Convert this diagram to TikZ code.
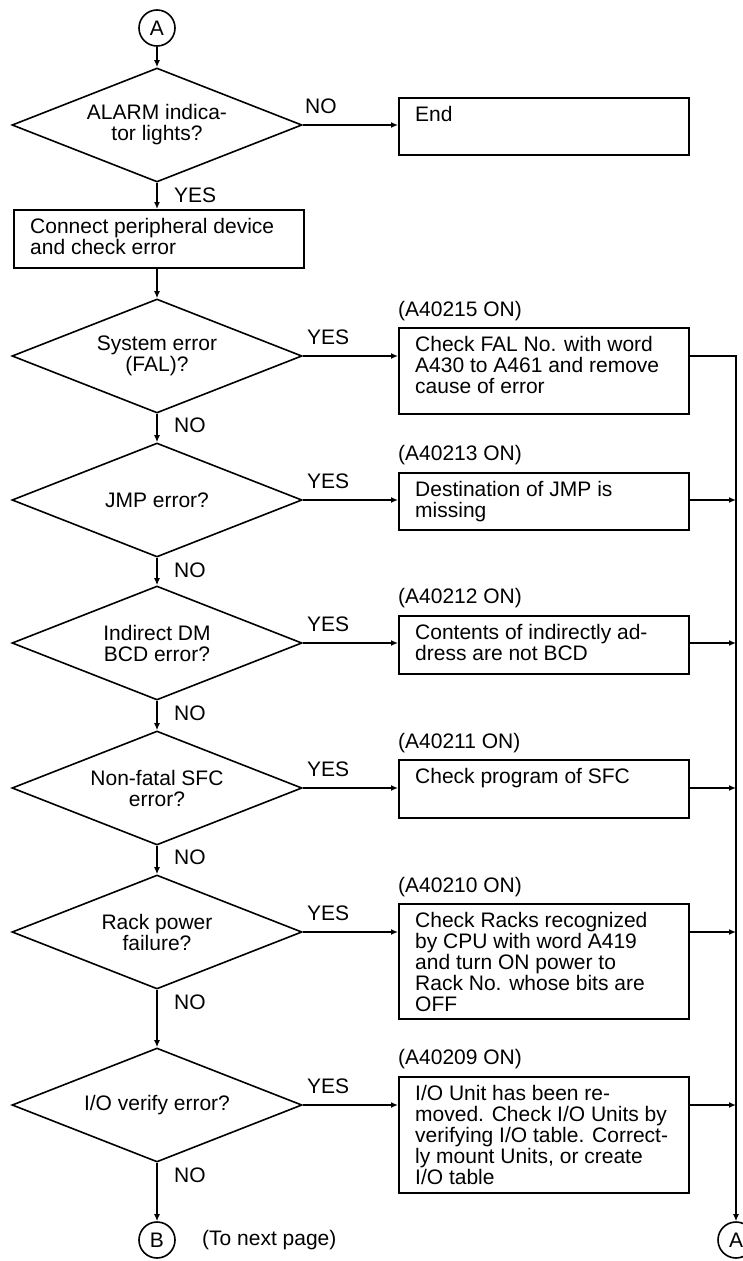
\documentclass[tikz,border=0pt]{standalone}
\usepackage{fontspec}
\setmainfont{Liberation Sans}
\usetikzlibrary{shapes.geometric,arrows.meta}
\begin{document}
\begin{tikzpicture}[x=1pt,y=-1pt,
  every node/.style={font=\fontsize{21}{21}\selectfont},
  line/.style={line width=1.6pt},
  arr/.style={line width=1.6pt, -{Latex[length=7pt,width=6pt]}},
  dec/.style={diamond, draw, line width=1.6pt, minimum width=290pt, minimum height=114pt, inner sep=0pt, align=center, aspect=2.54},
  box/.style={draw, line width=1.6pt, minimum width=290pt, inner sep=0pt, anchor=north west},
  txt/.style={anchor=north west, inner sep=0pt, align=left},
  lab/.style={inner sep=0pt, anchor=west},
  conn/.style={circle, draw, line width=1.6pt, minimum size=36pt, inner sep=0pt}]
\useasboundingbox (0,0) rectangle (743,1261);

% connectors
\node[conn] (cA) at (157,28) {A};
\node[conn] (cB) at (157,1240) {B};
\node[conn] (cA2) at (736,1240) {A};
\node[lab] (next) at (202,1240) {(To next page)};

% decisions
\node[dec] (d1) at (157,125) {ALARM indica-\\tor lights?};
\node[dec] (d2) at (157,356) {System error\\(FAL)?};
\node[dec] (d3) at (157,500) {JMP error?};
\node[dec] (d4) at (157,643) {Indirect DM\\BCD error?};
\node[dec] (d5) at (157,788) {Non-fatal SFC\\error?};
\node[dec] (d6) at (157,932) {Rack power\\failure?};
\node[dec] (d7) at (157,1105) {I/O verify error?};

% boxes
\node[box, minimum height=57pt] (bEnd) at (398,97) {};
\node[txt] (tEnd) at (415,106) {End};
\node[box, minimum height=58pt] (b0) at (13,209) {};
\node[txt] (t0) at (30,218) {Connect peripheral device\\and check error};
\node[box, minimum height=86pt] (b2) at (398,327) {};
\node[txt] (t2) at (415,336) {Check FAL No. with word\\A430 to A461 and remove\\cause of error};
\node[box, minimum height=57pt] (b3) at (398,472) {};
\node[txt] (t3) at (415,481) {Destination of JMP is\\missing};
\node[box, minimum height=58pt] (b4) at (398,615) {};
\node[txt] (t4) at (415,624) {Contents of indirectly ad-\\dress are not BCD};
\node[box, minimum height=58pt] (b5) at (398,759) {};
\node[txt] (t5) at (415,768) {Check program of SFC};
\node[box, minimum height=115pt] (b6) at (398,903) {};
\node[txt] (t6) at (415,912) {Check Racks recognized\\by CPU with word A419\\and turn ON power to\\Rack No. whose bits are\\OFF};
\node[box, minimum height=116pt] (b7) at (398,1076) {};
\node[txt] (t7) at (415,1085) {I/O Unit has been re-\\moved. Check I/O Units by\\verifying I/O table. Correct-\\ly mount Units, or create\\I/O table};

% bit labels
\node[lab] (on2) at (398,311) {(A40215 ON)};
\node[lab] (on3) at (398,455) {(A40213 ON)};
\node[lab] (on4) at (398,598) {(A40212 ON)};
\node[lab] (on5) at (398,743) {(A40211 ON)};
\node[lab] (on6) at (398,887) {(A40210 ON)};
\node[lab] (on7) at (398,1059) {(A40209 ON)};

% yes/no labels
\node[lab] (n1) at (305,106) {NO};
\node[lab] (y1) at (174,195) {YES};
\node[lab] (y2) at (307,337) {YES};
\node[lab] (y3) at (307,481) {YES};
\node[lab] (y4) at (307,624) {YES};
\node[lab] (y5) at (307,769) {YES};
\node[lab] (y6) at (307,913) {YES};
\node[lab] (y7) at (307,1086) {YES};
\node[lab] (n2) at (174,425) {NO};
\node[lab] (n3) at (174,570) {NO};
\node[lab] (n4) at (174,713) {NO};
\node[lab] (n5) at (174,857) {NO};
\node[lab] (n6) at (174,1002) {NO};
\node[lab] (n7) at (174,1175) {NO};

% flow
\draw[arr] (cA) -- (d1);
\draw[arr] (d1.east) -- (d1.east -| bEnd.west);
\draw[arr] (d1.south) -- (d1.south |- b0.north);
\draw[arr] (b0.south -| d2.north) -- (d2.north);
\draw[arr] (d2.south) -- (d3.north);
\draw[arr] (d3.south) -- (d4.north);
\draw[arr] (d4.south) -- (d5.north);
\draw[arr] (d5.south) -- (d6.north);
\draw[arr] (d6.south) -- (d7.north);
\draw[arr] (d7.south) -- (cB.north);

\draw[arr] (d2.east) -- (d2.east -| b2.west);
\draw[arr] (d3.east) -- (d3.east -| b3.west);
\draw[arr] (d4.east) -- (d4.east -| b4.west);
\draw[arr] (d5.east) -- (d5.east -| b5.west);
\draw[arr] (d6.east) -- (d6.east -| b6.west);
\draw[arr] (d7.east) -- (d7.east -| b7.west);

% return rail
\draw[arr] (d2.east -| b2.east) -- (d2.east -| cA2.north) -- (cA2.north);
\draw[arr] (d3.east -| b3.east) -- (d3.east -| cA2.north);
\draw[arr] (d4.east -| b4.east) -- (d4.east -| cA2.north);
\draw[arr] (d5.east -| b5.east) -- (d5.east -| cA2.north);
\draw[arr] (d6.east -| b6.east) -- (d6.east -| cA2.north);
\draw[arr] (d7.east -| b7.east) -- (d7.east -| cA2.north);
\end{tikzpicture}
\end{document}
